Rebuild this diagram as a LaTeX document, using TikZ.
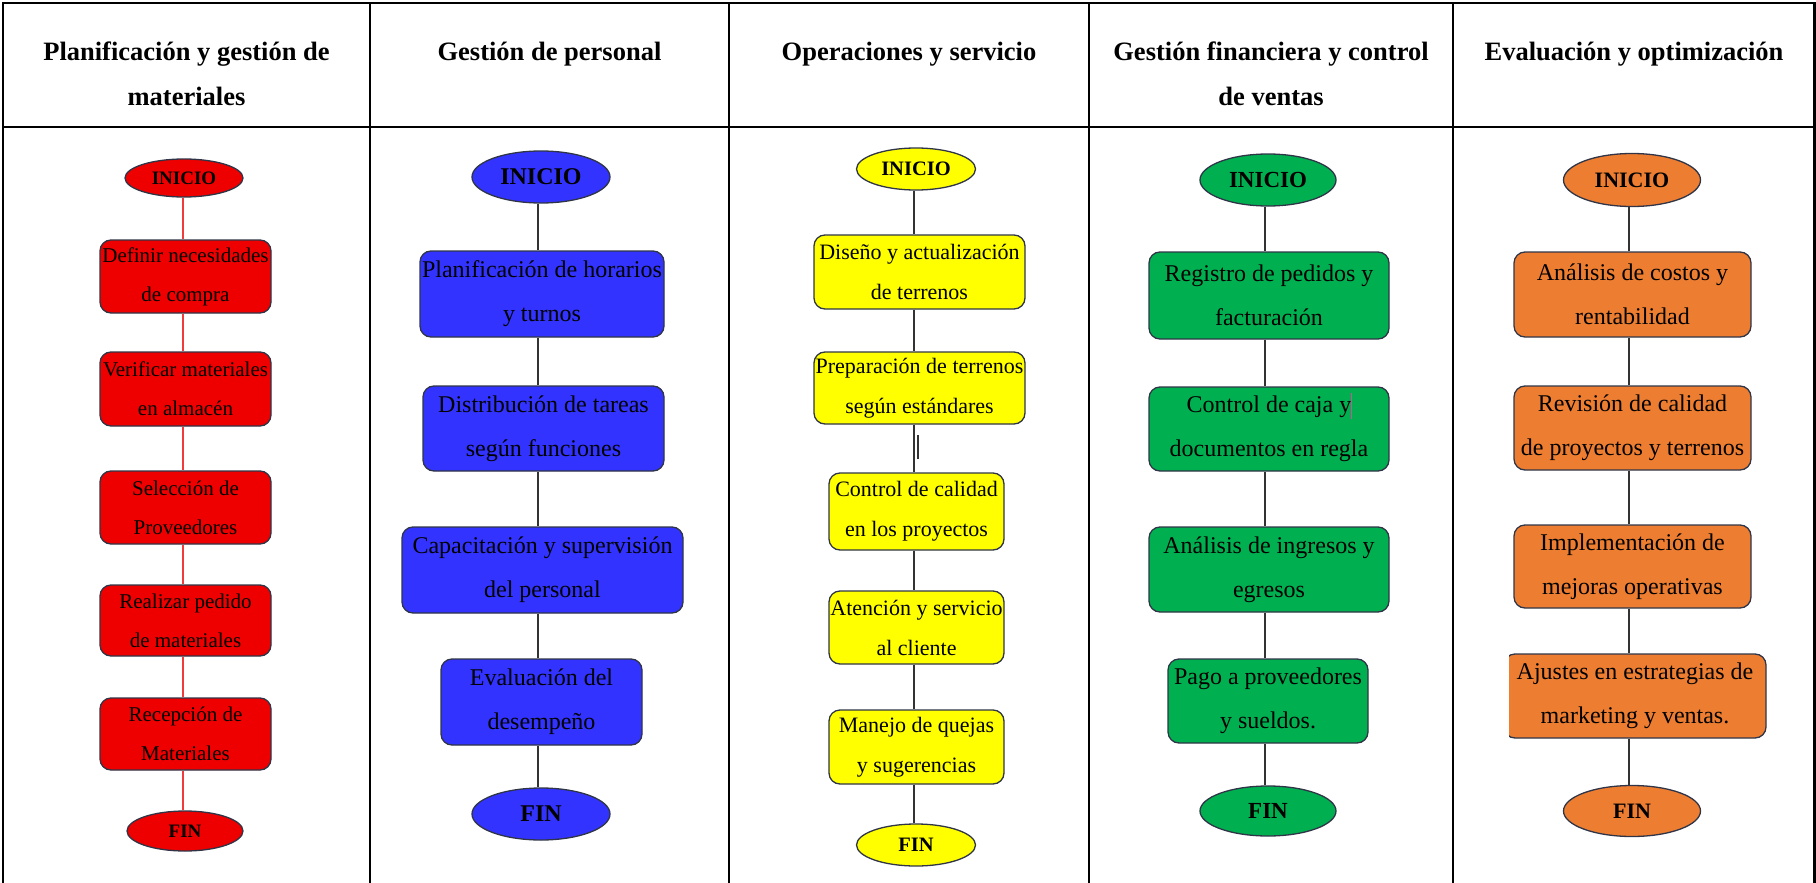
\documentclass[tikz,border=0pt]{standalone}
\usepackage{fontspec}
\setmainfont{Liberation Serif}
\usetikzlibrary{shapes.geometric}

\definecolor{redfill}{RGB}{238,0,0}
\definecolor{bluefill}{RGB}{51,51,255}
\definecolor{yellowfill}{RGB}{255,255,0}
\definecolor{greenfill}{RGB}{0,176,80}
\definecolor{orangefill}{RGB}{237,125,49}
\definecolor{edge}{RGB}{47,53,71}
\definecolor{redline}{RGB}{240,60,60}
\definecolor{darkline}{RGB}{51,51,51}
\definecolor{caret}{RGB}{200,85,154}

\tikzset{
  rule/.style={line width=2.5pt, draw=black},
  hdr/.style={inner sep=0pt, anchor=base, font=\fontsize{26.5pt}{46pt}\selectfont\bfseries},
  proc/.style={draw=edge, line width=1.3pt, rounded corners=11pt, inner sep=0pt, align=center},
  term/.style={ellipse, draw=edge, line width=1.3pt, inner sep=0pt},
  link/.style={line width=1.6pt, draw=darkline},
  redlink/.style={line width=1.9pt, draw=redline},
  fA/.style={font=\fontsize{21pt}{39pt}\selectfont},
  fB/.style={font=\fontsize{24pt}{44pt}\selectfont},
  fC/.style={font=\fontsize{22pt}{40pt}\selectfont},
  fD/.style={font=\fontsize{24pt}{44pt}\selectfont},
  fE/.style={font=\fontsize{24pt}{44pt}\selectfont},
}

\newcommand{\hdrtext}[1]{\begin{tabular}[t]{@{}c@{}}#1\end{tabular}}

\begin{document}
\begin{tikzpicture}[x=1pt,y=-1pt]
\useasboundingbox (0,0) rectangle (1816,883);

% table grid
\draw[rule] (3,883) -- (3,3) -- (1814.5,3) -- (1814.5,883);
\draw[rule] (3,127) -- (1814.5,127);
\foreach \cx in {370,729,1089,1453} \draw[rule] (\cx,3) -- (\cx,883);

% column headings
\node[hdr] (h1) at (186.5,60) {\fontsize{26.5pt}{46pt}\selectfont\hdrtext{Planificación y gestión de\\materiales}};
\node[hdr] (h2) at (549.5,60) {\hdrtext{Gestión de personal}};
\node[hdr] (h3) at (909,60) {\hdrtext{Operaciones y servicio}};
\node[hdr] (h4) at (1271,60) {\fontsize{26.5pt}{46pt}\selectfont\hdrtext{Gestión financiera y control\\de ventas}};
\node[hdr] (h5) at (1634,60) {\hdrtext{Evaluación y optimización}};

% connector axes
\coordinate (k1) at (183,0);
\coordinate (k2) at (538,0);
\coordinate (k3) at (914,0);
\coordinate (k4) at (1265,0);
\coordinate (k5) at (1629,0);

% column 1: materiales
\node[term, fill=redfill, minimum width=118pt, minimum height=38pt, font=\fontsize{19pt}{22pt}\selectfont\bfseries] (a0) at (184,178) {INICIO};
\node[proc, fA, fill=redfill, minimum width=171pt, minimum height=73pt] (a1) at (185.5,276.5) {Definir necesidades\\de compra};
\node[proc, fA, fill=redfill, minimum width=171pt, minimum height=74pt] (a2) at (185.5,389) {Verificar materiales\\en almacén};
\node[proc, fA, fill=redfill, minimum width=171pt, minimum height=73pt] (a3) at (185.5,507.5) {Selección de\\Proveedores};
\node[proc, fA, fill=redfill, minimum width=171pt, minimum height=71pt] (a4) at (185.5,620.5) {Realizar pedido\\de materiales};
\node[proc, fA, fill=redfill, minimum width=171pt, minimum height=72pt] (a5) at (185.5,734) {Recepción de\\Materiales};
\node[term, fill=redfill, minimum width=116pt, minimum height=40pt, font=\fontsize{19pt}{22pt}\selectfont\bfseries] (a6) at (185,831) {FIN};
\foreach \p/\q in {a0/a1,a1/a2,a2/a3,a3/a4,a4/a5,a5/a6}
  \draw[redlink] (\p.south -| k1) -- (\q.north -| k1);

% column 2: personal
\node[term, fill=bluefill, minimum width=138pt, minimum height=52pt, font=\fontsize{24pt}{28pt}\selectfont\bfseries] (b0) at (541,177) {INICIO};
\node[proc, fB, fill=bluefill, minimum width=244pt, minimum height=86pt] (b1) at (542,294) {Planificación de horarios\\y turnos};
\node[proc, fB, fill=bluefill, minimum width=241pt, minimum height=85pt] (b2) at (543.5,428.5) {Distribución de tareas\\según funciones};
\node[proc, fB, fill=bluefill, minimum width=281pt, minimum height=86pt] (b3) at (542.5,570) {Capacitación y supervisión\\del personal};
\node[proc, fB, fill=bluefill, minimum width=201pt, minimum height=86pt] (b4) at (541.5,702) {Evaluación del\\desempeño};
\node[term, fill=bluefill, minimum width=138pt, minimum height=52pt, font=\fontsize{24pt}{28pt}\selectfont\bfseries] (b5) at (541,814) {FIN};
\foreach \p/\q in {b0/b1,b1/b2,b2/b3,b3/b4,b4/b5}
  \draw[link] (\p.south -| k2) -- (\q.north -| k2);

% column 3: operaciones
\node[term, fill=yellowfill, minimum width=119pt, minimum height=42pt, font=\fontsize{20.5pt}{24pt}\selectfont\bfseries] (c0) at (916,169) {INICIO};
\node[proc, fC, fill=yellowfill, minimum width=211pt, minimum height=74pt] (c1) at (919.5,272) {Diseño y actualización\\de terrenos};
\node[proc, fC, fill=yellowfill, minimum width=211pt, minimum height=72pt] (c2) at (919.5,388) {Preparación de terrenos\\según estándares};
\node[proc, fC, fill=yellowfill, minimum width=175pt, minimum height=77pt] (c3) at (916.5,511.5) {Control de calidad\\en los proyectos};
\node[proc, fC, fill=yellowfill, minimum width=175pt, minimum height=73pt] (c4) at (916.5,627.5) {Atención y servicio\\al cliente};
\node[proc, fC, fill=yellowfill, minimum width=175pt, minimum height=74pt] (c5) at (916.5,747) {Manejo de quejas\\y sugerencias};
\node[term, fill=yellowfill, minimum width=119pt, minimum height=42pt, font=\fontsize{20.5pt}{24pt}\selectfont\bfseries] (c6) at (916,845) {FIN};
\foreach \p/\q in {c0/c1,c1/c2,c2/c3,c3/c4,c4/c5,c5/c6}
  \draw[link] (\p.south -| k3) -- (\q.north -| k3);
\draw[line width=2.3pt, draw=darkline] (918,435) -- (918,459);

% column 4: finanzas
\node[term, fill=greenfill, minimum width=136pt, minimum height=52pt, font=\fontsize{23pt}{27pt}\selectfont\bfseries] (d0) at (1268,180) {INICIO};
\node[proc, fD, fill=greenfill, minimum width=240pt, minimum height=87pt] (d1) at (1269,295.5) {Registro de pedidos y\\facturación};
\node[proc, fD, fill=greenfill, minimum width=240pt, minimum height=84pt] (d2) at (1269,429) {Control de caja y\\documentos en regla};
\node[proc, fD, fill=greenfill, minimum width=240pt, minimum height=85pt] (d3) at (1269,569.5) {Análisis de ingresos y\\egresos};
\node[proc, fD, fill=greenfill, minimum width=200pt, minimum height=84pt] (d4) at (1268,701) {Pago a proveedores\\y sueldos.};
\node[term, fill=greenfill, minimum width=136pt, minimum height=50pt, font=\fontsize{23pt}{27pt}\selectfont\bfseries] (d5) at (1268,811) {FIN};
\foreach \p/\q in {d0/d1,d1/d2,d2/d3,d3/d4,d4/d5}
  \draw[link] (\p.south -| k4) -- (\q.north -| k4);
\draw[line width=1pt, draw=caret] (1351,393) -- (1351,419);

% column 5: evaluacion
\node[term, fill=orangefill, minimum width=137pt, minimum height=53pt, font=\fontsize{22pt}{26pt}\selectfont\bfseries] (e0) at (1632,180) {INICIO};
\node[proc, fE, fill=orangefill, minimum width=237pt, minimum height=85pt] (e1) at (1632.5,294.5) {Análisis de costos y\\rentabilidad};
\node[proc, fE, fill=orangefill, minimum width=237pt, minimum height=84pt] (e2) at (1632.5,428) {Revisión de calidad\\de proyectos y terrenos};
\node[proc, fE, fill=orangefill, minimum width=237pt, minimum height=83pt] (e3) at (1632.5,566.5) {Implementación de\\mejoras operativas};
\begin{scope}
  \clip (1509,640) rectangle (1790,760);
  \node[proc, fE, fill=orangefill, minimum width=262pt, minimum height=84pt] (e4) at (1635,696) {Ajustes en estrategias de\\marketing y ventas.};
\end{scope}
\node[term, fill=orangefill, minimum width=137pt, minimum height=51pt, font=\fontsize{22pt}{26pt}\selectfont\bfseries] (e5) at (1632,811) {FIN};
\foreach \p/\q in {e0/e1,e1/e2,e2/e3,e3/e4,e4/e5}
  \draw[link] (\p.south -| k5) -- (\q.north -| k5);

\end{tikzpicture}
\end{document}
